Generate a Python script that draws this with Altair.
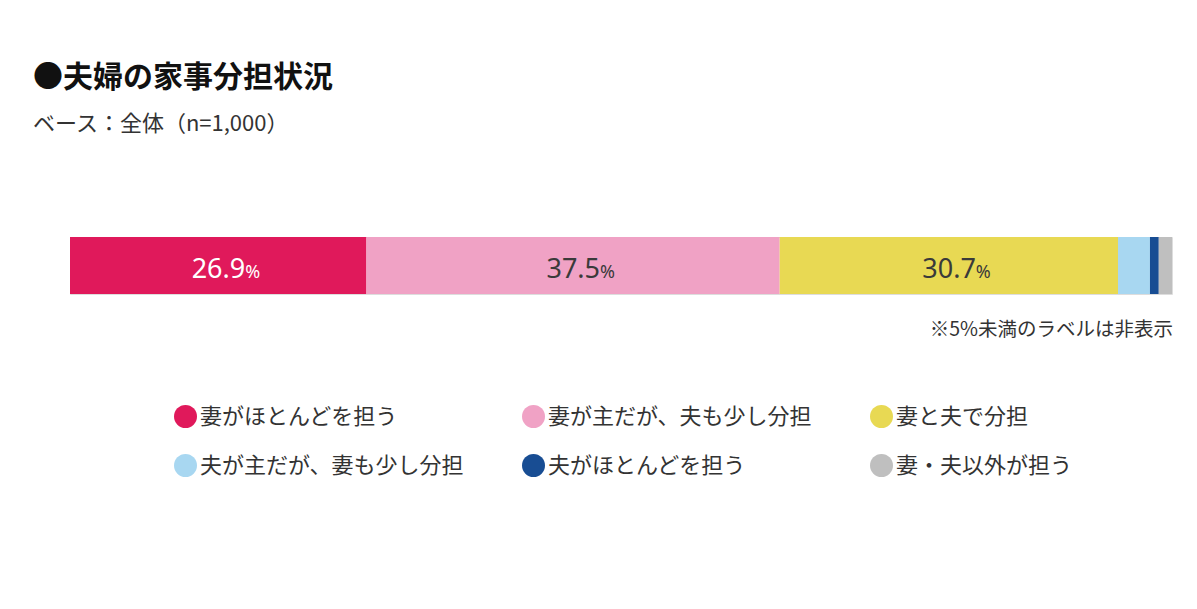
import altair as alt
import pandas as pd

# 夫婦の家事分担状況 (n=1,000)
categories = [
    "妻がほとんどを担う",
    "妻が主だが、夫も少し分担",
    "妻と夫で分担",
    "夫が主だが、妻も少し分担",
    "夫がほとんどを担う",
    "妻・夫以外が担う",
]
shares = [26.9, 37.5, 30.7, 2.9, 0.8, 1.2]
colors = ["#E0195B", "#F0A2C5", "#E8D953", "#A8D7F1", "#184D93", "#BFBFBF"]

title_text = "●夫婦の家事分担状況"
subtitle_text = "ベース：全体（n=1,000）"
footnote = "※5%未満のラベルは非表示"

df = pd.DataFrame({
    "cat": categories,
    "value": shares,
    "idx": list(range(len(categories))),
    "row": "all",
})

jp = "Noto Sans CJK JP"

base = alt.Chart(df)

bars = base.mark_bar(stroke=None).encode(
    x=alt.X("value:Q", stack="zero",
            scale=alt.Scale(domain=[0, 100], nice=False), axis=None),
    y=alt.Y("row:N", axis=None,
            scale=alt.Scale(paddingInner=0, paddingOuter=0)),
    color=alt.Color(
        "cat:N",
        scale=alt.Scale(domain=categories, range=colors),
        legend=alt.Legend(
            title=None, orient="none", legendX=104, legendY=168,
            direction="horizontal", columns=3, gridAlign="all",
            columnPadding=58, rowPadding=26,
            padding=0, symbolType="circle", symbolSize=529,
            symbolStrokeWidth=0, symbolOpacity=1, labelOffset=3,
            labelFont=jp, labelFontSize=22, labelColor="#333333",
            labelLimit=400,
        ),
    ),
    order=alt.Order("idx:Q"),
)

labelled = base.transform_window(
    cum="sum(value)", sort=[alt.SortField("idx")], frame=[None, 0]
).transform_calculate(
    mid="datum.cum - datum.value / 2"
).transform_filter("datum.value >= 5")

label_color = alt.condition("datum.idx == 0", alt.value("white"), alt.value("#3a3a3a"))

nums = labelled.mark_text(
    align="right", baseline="alphabetic", dx=27, dy=12,
    font="Noto Sans", fontSize=27,
).encode(
    x=alt.X("mid:Q"),
    y=alt.Y("row:N"),
    text=alt.Text("value:Q", format=".1f"),
    color=label_color,
)

pcts = labelled.mark_text(
    align="left", baseline="alphabetic", dx=27, dy=12,
    font="Noto Sans", fontSize=18,
).encode(
    x=alt.X("mid:Q"),
    y=alt.Y("row:N"),
    text=alt.value("%"),
    color=label_color,
)

note = alt.Chart(pd.DataFrame({"note": [footnote]})).mark_text(
    align="right", baseline="alphabetic", font=jp, fontSize=19.5, color="#333333",
).encode(
    text="note:N",
    x=alt.value(1103),
    y=alt.value(99),
)

chart = alt.layer(bars, nums, pcts, note).properties(
    width=1102,
    height=57,
    padding={"left": 62, "top": 229, "right": 17, "bottom": 280},
    autosize=alt.AutoSizeParams(type="none"),
    title=alt.Title(
        text=title_text, subtitle=subtitle_text, anchor="start", dx=-37,
        font=jp, fontSize=30, fontWeight="bold", color="#111111",
        subtitleFont=jp, subtitleFontSize=22, subtitleColor="#333333",
        subtitlePadding=21, offset=102,
    ),
).configure_view(stroke=None).configure(background="white")

chart.save("out.html", embed_options={"renderer": "svg", "actions": False})
